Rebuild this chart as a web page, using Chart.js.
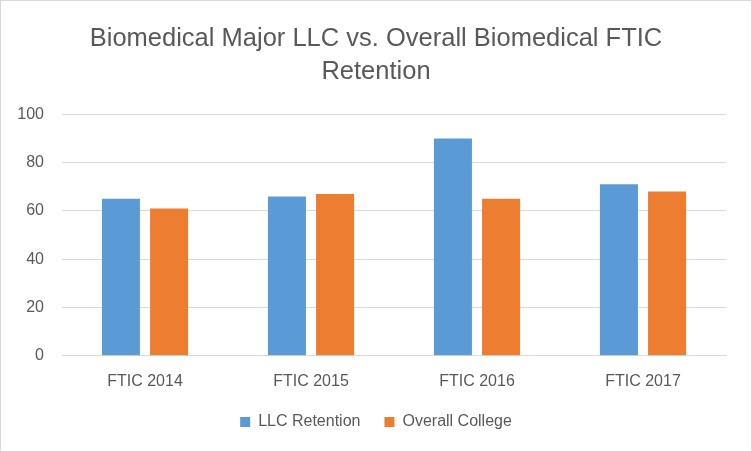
<!DOCTYPE html>
<html>
<head>
<meta charset="utf-8">
<script src="https://cdn.jsdelivr.net/npm/chart.js@4/dist/chart.umd.min.js"></script>
<style>
html,body{margin:0;padding:0;background:#fff;}
#wrap{width:752px;height:452px;position:relative;}
</style>
</head>
<body>
<div id="wrap"><canvas id="c" width="752" height="452"></canvas></div>
<script>
const categories = ["FTIC 2014", "FTIC 2015", "FTIC 2016", "FTIC 2017"];
const llcRetention = [65, 66, 90, 71];
const overallCollege = [61, 67, 65, 68];
const seriesNames = ["LLC Retention", "Overall College"];
const titleLines = ["Biomedical Major LLC vs. Overall Biomedical FTIC", "Retention"];

const FONT = "'Liberation Sans', Arial, sans-serif";
const TXT = "#595959";

const borderPlugin = {
  id: 'outerBorder',
  beforeDraw(chart) {
    const ctx = chart.ctx;
    ctx.save();
    ctx.fillStyle = '#ffffff';
    ctx.fillRect(0, 0, chart.width, chart.height);
    ctx.strokeStyle = '#d9d9d9';
    ctx.lineWidth = 1;
    ctx.strokeRect(0.5, 0.5, chart.width - 1, chart.height - 1);
    ctx.restore();
  }
};

// Legend spacing tweak: shrink the reserved legend height slightly and lift the legend row.
const legendTweak = {
  id: 'legendTweak',
  beforeLayout(chart) {
    const lg = chart.legend;
    if (lg && !lg._tweaked) {
      const orig = lg.fit;
      lg.fit = function () { orig.call(this); this.height = Math.max(0, this.height - 5); };
      lg._tweaked = true;
    }
  },
  afterLayout(chart) {
    const lg = chart.legend;
    if (lg) { lg.top -= 17; lg.bottom -= 17; }
  }
};

new Chart(document.getElementById('c'), {
  type: 'bar',
  data: {
    labels: categories,
    datasets: [
      { label: seriesNames[0], data: llcRetention, backgroundColor: '#5b9bd5', borderWidth: 0 },
      { label: seriesNames[1], data: overallCollege, backgroundColor: '#ed7d31', borderWidth: 0 }
    ]
  },
  options: {
    responsive: false,
    animation: false,
    devicePixelRatio: 1,
    categoryPercentage: 0.58,
    barPercentage: 0.79,
    layout: { padding: { left: 0, right: 0, top: 22, bottom: 0 } },
    plugins: {
      title: {
        display: true,
        text: titleLines,
        color: TXT,
        font: { family: FONT, size: 25.5, weight: 'normal', lineHeight: 1.3 },
        padding: { top: 0, bottom: 26 }
      },
      legend: {
        position: 'bottom',
        labels: {
          color: TXT,
          font: { family: FONT, size: 16 },
          boxWidth: 10,
          boxHeight: 10,
          padding: 24
        }
      },
      tooltip: { enabled: false }
    },
    scales: {
      x: {
        grid: { display: false, drawTicks: false },
        border: { display: true, color: '#d9d9d9' },
        ticks: { color: TXT, font: { family: FONT, size: 16 }, padding: 16 }
      },
      y: {
        min: 0, max: 100,
        afterFit(scale) { scale.width = 62; },
        grid: { color: '#d9d9d9', drawTicks: false },
        border: { display: false },
        ticks: { stepSize: 20, color: TXT, font: { family: FONT, size: 16 }, padding: 18 }
      },
      yRight: {
        position: 'right',
        min: 0, max: 100,
        afterFit(scale) { scale.width = 26; },
        grid: { display: false, drawTicks: false },
        border: { display: false },
        ticks: { display: false }
      }
    }
  },
  plugins: [borderPlugin, legendTweak]
});
</script>
</body>
</html>
